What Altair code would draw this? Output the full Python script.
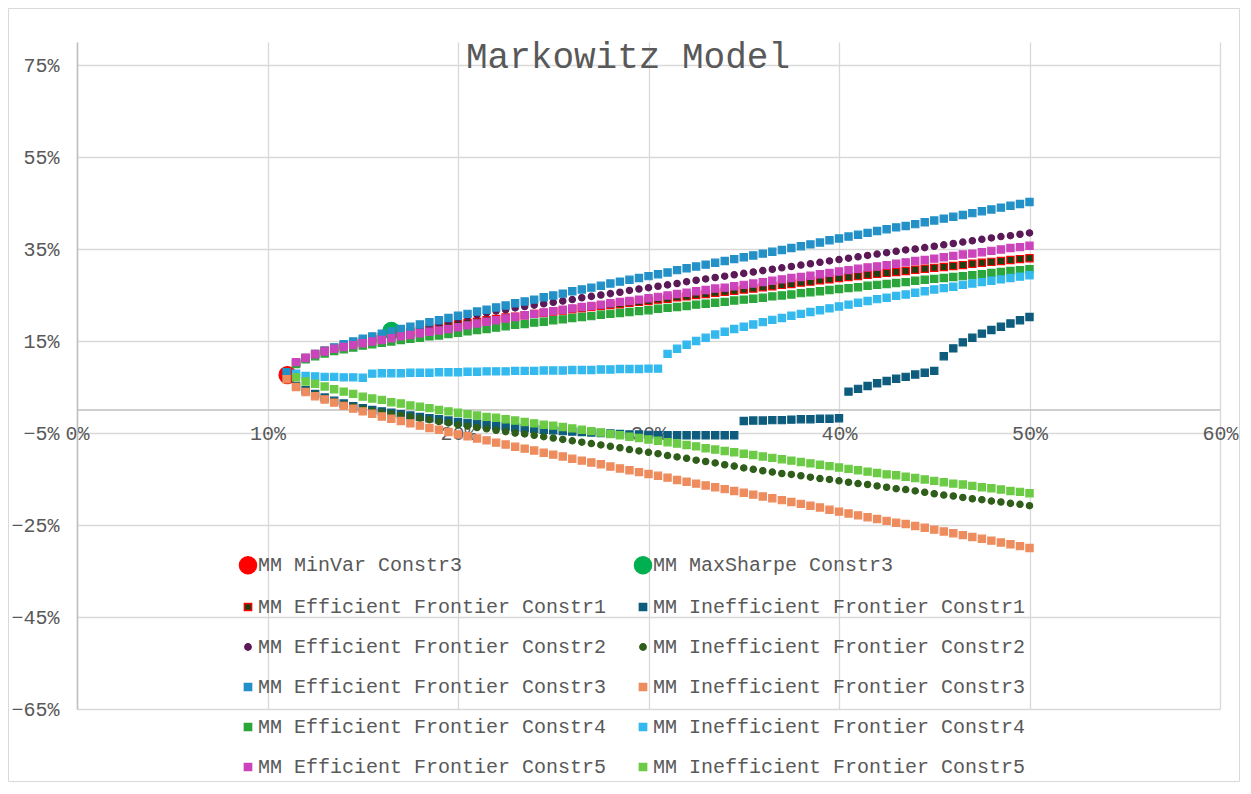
import altair as alt
import pandas as pd

TITLE = "Markowitz Model"

# Portfolio risk (standard deviation, %) grid shared by the frontier series
X = [11.0, 11.5, 12.0, 12.5, 13.0, 13.5, 14.0, 14.5, 15.0, 15.5, 16.0, 16.5, 17.0, 17.5, 18.0, 18.5, 19.0, 19.5, 20.0,
     20.5, 21.0, 21.5, 22.0, 22.5, 23.0, 23.5, 24.0, 24.5, 25.0, 25.5, 26.0, 26.5, 27.0, 27.5, 28.0, 28.5, 29.0, 29.5, 30.0,
     30.5, 31.0, 31.5, 32.0, 32.5, 33.0, 33.5, 34.0, 34.5, 35.0, 35.5, 36.0, 36.5, 37.0, 37.5, 38.0, 38.5, 39.0, 39.5, 40.0,
     40.5, 41.0, 41.5, 42.0, 42.5, 43.0, 43.5, 44.0, 44.5, 45.0, 45.5, 46.0, 46.5, 47.0, 47.5, 48.0, 48.5, 49.0, 49.5, 50.0]

# Expected returns (%) per series
EFF1 = [8.0, 10.3, 11.3, 12.2, 12.9, 13.5, 14.0, 14.5, 14.9, 15.4, 15.8, 16.2, 16.6, 16.9, 17.3, 17.6, 17.9, 18.3, 18.6,
        18.9, 19.2, 19.5, 19.8, 20.1, 20.3, 20.6, 20.9, 21.1, 21.4, 21.6, 21.9, 22.1, 22.4, 22.6, 22.8, 23.0, 23.3, 23.5, 23.7,
        24.0, 24.2, 24.5, 24.7, 25.0, 25.2, 25.5, 25.7, 25.9, 26.2, 26.4, 26.7, 26.9, 27.2, 27.4, 27.7, 27.9, 28.2, 28.4, 28.7,
        28.9, 29.1, 29.4, 29.6, 29.8, 30.0, 30.2, 30.5, 30.7, 30.9, 31.1, 31.3, 31.5, 31.8, 32.0, 32.2, 32.4, 32.6, 32.8, 33.0]
INEFF1 = [7.0, 5.2, 4.3, 3.5, 2.7, 2.0, 1.4, 0.8, 0.4, 0.0, -0.3, -0.6, -0.9, -1.2, -1.5, -1.8, -2.0, -2.3, -2.6,
          -2.8, -3.0, -3.2, -3.4, -3.6, -3.8, -4.0, -4.1, -4.3, -4.4, -4.6, -4.7, -4.8, -4.9, -5.0, -5.1, -5.2, -5.3, -5.3, -5.4,
          -5.5, -5.5, -5.5, -5.5, -5.5, -5.5, -5.5, -5.5, -5.5, -2.4, -2.3, -2.3, -2.2, -2.2, -2.1, -2.0, -2.0, -1.9, -1.9, -1.8,
          4.0, 4.6, 5.2, 5.8, 6.3, 6.8, 7.2, 7.7, 8.1, 8.5, 11.7, 13.4, 14.7, 15.7, 16.6, 17.4, 18.1, 18.8, 19.5, 20.2]
EFF2 = [8.0, 10.1, 11.2, 12.1, 12.8, 13.5, 14.1, 14.7, 15.3, 15.8, 16.3, 16.8, 17.3, 17.7, 18.2, 18.6, 19.0, 19.5, 19.9,
        20.3, 20.7, 21.1, 21.5, 21.8, 22.2, 22.5, 22.8, 23.1, 23.4, 23.7, 24.0, 24.4, 24.7, 25.0, 25.3, 25.6, 26.0, 26.3, 26.6,
        26.9, 27.2, 27.5, 27.9, 28.2, 28.5, 28.8, 29.1, 29.4, 29.7, 30.0, 30.3, 30.6, 30.9, 31.2, 31.5, 31.8, 32.1, 32.4, 32.7,
        33.0, 33.3, 33.6, 33.9, 34.2, 34.5, 34.8, 35.0, 35.3, 35.6, 35.9, 36.2, 36.5, 36.8, 37.1, 37.4, 37.7, 37.9, 38.2, 38.5]
INEFF2 = [6.8, 5.0, 4.1, 3.3, 2.5, 1.8, 1.2, 0.7, 0.2, -0.2, -0.5, -0.8, -1.1, -1.4, -1.8, -2.1, -2.5, -2.8, -3.2,
          -3.5, -3.8, -4.1, -4.4, -4.7, -5.0, -5.2, -5.5, -5.8, -6.1, -6.4, -6.7, -7.0, -7.3, -7.6, -7.9, -8.2, -8.6, -8.9, -9.2,
          -9.5, -9.9, -10.2, -10.5, -10.9, -11.2, -11.5, -11.9, -12.2, -12.6, -12.9, -13.2, -13.5, -13.8, -14.0, -14.3, -14.6, -14.9, -15.1, -15.4,
          -15.7, -16.0, -16.2, -16.5, -16.8, -17.1, -17.3, -17.6, -17.9, -18.2, -18.5, -18.7, -19.0, -19.3, -19.5, -19.8, -20.0, -20.3, -20.5, -20.8]
EFF3 = [8.2, 10.2, 11.3, 12.2, 12.9, 13.6, 14.3, 14.9, 15.5, 16.0, 16.6, 17.1, 17.6, 18.1, 18.6, 19.1, 19.5, 20.0, 20.5,
        20.9, 21.4, 21.8, 22.3, 22.7, 23.2, 23.6, 24.0, 24.5, 24.9, 25.3, 25.8, 26.2, 26.6, 27.0, 27.5, 27.9, 28.3, 28.7, 29.1,
        29.5, 29.9, 30.4, 30.8, 31.2, 31.6, 32.0, 32.4, 32.8, 33.2, 33.6, 34.0, 34.4, 34.8, 35.2, 35.6, 36.0, 36.4, 36.9, 37.3,
        37.7, 38.1, 38.5, 38.9, 39.3, 39.7, 40.0, 40.4, 40.8, 41.2, 41.6, 42.0, 42.4, 42.8, 43.2, 43.6, 44.0, 44.4, 44.8, 45.2]
INEFF3 = [6.7, 5.0, 3.9, 3.0, 2.3, 1.6, 0.9, 0.3, -0.3, -0.8, -1.4, -1.9, -2.4, -2.9, -3.4, -3.9, -4.3, -4.8, -5.3,
          -5.7, -6.2, -6.6, -7.1, -7.5, -8.0, -8.4, -8.8, -9.3, -9.7, -10.1, -10.6, -11.0, -11.4, -11.8, -12.3, -12.7, -13.1, -13.5, -13.9,
          -14.3, -14.7, -15.2, -15.6, -16.0, -16.4, -16.8, -17.2, -17.6, -18.0, -18.4, -18.8, -19.2, -19.6, -20.0, -20.4, -20.8, -21.2, -21.7, -22.1,
          -22.5, -22.9, -23.3, -23.7, -24.1, -24.5, -24.8, -25.2, -25.6, -26.0, -26.4, -26.8, -27.2, -27.6, -28.0, -28.4, -28.8, -29.2, -29.6, -30.0]
EFF4 = [None, 10.0, 11.0, 11.7, 12.3, 12.8, 13.2, 13.6, 14.0, 14.3, 14.6, 14.9, 15.2, 15.5, 15.7, 16.0, 16.2, 16.5, 16.8,
        17.1, 17.4, 17.6, 17.9, 18.2, 18.5, 18.7, 19.0, 19.2, 19.5, 19.7, 20.0, 20.2, 20.4, 20.7, 20.9, 21.1, 21.3, 21.5, 21.7,
        22.0, 22.2, 22.4, 22.6, 22.9, 23.1, 23.3, 23.5, 23.8, 24.0, 24.2, 24.4, 24.7, 24.9, 25.1, 25.4, 25.6, 25.8, 26.1, 26.3,
        26.5, 26.7, 27.0, 27.2, 27.4, 27.6, 27.8, 28.1, 28.3, 28.5, 28.7, 28.9, 29.1, 29.3, 29.5, 29.8, 30.0, 30.2, 30.4, 30.6]
INEFF4 = [None, 7.9, 7.4, 7.3, 7.2, 7.2, 7.1, 7.1, 7.0, 7.9, 8.0, 8.0, 8.0, 8.1, 8.1, 8.1, 8.2, 8.2, 8.2,
          8.3, 8.3, 8.4, 8.4, 8.4, 8.5, 8.5, 8.5, 8.6, 8.6, 8.6, 8.7, 8.7, 8.7, 8.8, 8.8, 8.9, 8.9, 8.9, 9.0,
          9.0, 12.2, 13.3, 14.2, 15.0, 15.7, 16.4, 17.0, 17.6, 18.1, 18.6, 19.1, 19.6, 20.0, 20.5, 20.9, 21.3, 21.7, 22.1, 22.5,
          22.9, 23.3, 23.7, 24.1, 24.4, 24.8, 25.1, 25.5, 25.8, 26.2, 26.5, 26.8, 27.2, 27.5, 27.8, 28.1, 28.4, 28.7, 29.0, 29.3]
EFF5 = [None, 10.4, 11.3, 12.1, 12.7, 13.3, 13.7, 14.1, 14.5, 14.9, 15.2, 15.6, 16.0, 16.3, 16.7, 17.0, 17.3, 17.6, 18.0,
        18.4, 18.8, 19.2, 19.5, 19.9, 20.2, 20.6, 20.9, 21.2, 21.5, 21.8, 22.1, 22.4, 22.6, 22.9, 23.2, 23.5, 23.7, 24.0, 24.3,
        24.6, 24.9, 25.2, 25.5, 25.8, 26.1, 26.4, 26.6, 26.9, 27.2, 27.5, 27.8, 28.1, 28.4, 28.7, 28.9, 29.2, 29.5, 29.8, 30.1,
        30.4, 30.7, 31.0, 31.2, 31.5, 31.8, 32.1, 32.4, 32.6, 32.9, 33.2, 33.5, 33.8, 34.0, 34.3, 34.6, 34.9, 35.2, 35.4, 35.7]
INEFF5 = [None, 7.1, 6.2, 5.7, 5.1, 4.5, 4.0, 3.5, 2.9, 2.5, 2.2, 1.7, 1.4, 1.0, 0.7, 0.4, 0.0, -0.3, -0.6,
          -0.9, -1.2, -1.5, -1.7, -2.0, -2.3, -2.6, -2.9, -3.2, -3.4, -3.7, -4.0, -4.3, -4.6, -4.9, -5.2, -5.5, -5.8, -6.1, -6.4,
          -6.7, -7.0, -7.3, -7.6, -7.9, -8.3, -8.6, -8.9, -9.2, -9.5, -9.8, -10.1, -10.4, -10.7, -11.0, -11.3, -11.6, -11.9, -12.2, -12.5,
          -12.8, -13.1, -13.4, -13.7, -14.0, -14.2, -14.5, -14.8, -15.1, -15.4, -15.7, -16.0, -16.2, -16.5, -16.8, -17.0, -17.3, -17.6, -17.8, -18.1]

MINVAR_X = [11.05]
MINVAR_Y = [7.6]
MAXSHARPE_X = [16.5]
MAXSHARPE_Y = [17.2]

# Series in drawing order (Excel plots them in this order)
NAMES = ["MM MinVar Constr3", "MM MaxSharpe Constr3",
         "MM Efficient Frontier Constr1", "MM Inefficient Frontier Constr1",
         "MM Efficient Frontier Constr2", "MM Inefficient Frontier Constr2",
         "MM Efficient Frontier Constr3", "MM Inefficient Frontier Constr3",
         "MM Efficient Frontier Constr4", "MM Inefficient Frontier Constr4",
         "MM Efficient Frontier Constr5", "MM Inefficient Frontier Constr5"]
FILLS = ["#FF0000", "#00B050", "#1E3F14", "#0D5C7D", "#5B1A57", "#2F5E1A",
         "#2391C8", "#EE8C5E", "#2BA63A", "#33B9EE", "#CC44BB", "#6CCB45"]
STROKES = ["#FF0000", "#00B050", "#FF0000", "#0D5C7D", "#5B1A57", "#2F5E1A",
           "#2391C8", "#EE8C5E", "#2BA63A", "#33B9EE", "#CC44BB", "#6CCB45"]
SHAPES = ["circle", "circle", "square", "square", "circle", "circle",
          "square", "square", "square", "square", "square", "square"]
SIZES = [290, 290, 52, 52, 40, 40, 52, 52, 52, 52, 52, 52]

X_TICKS = [0, 10, 20, 30, 40, 50, 60]
Y_TICKS = [-65, -45, -25, -5, 15, 35, 55, 75]

rows = []
for xv, yv in zip(MINVAR_X, MINVAR_Y):
    rows.append({"series": NAMES[0], "risk": xv, "ret": yv, "o": 0})
for xv, yv in zip(MAXSHARPE_X, MAXSHARPE_Y):
    rows.append({"series": NAMES[1], "risk": xv, "ret": yv, "o": 1})
frontiers = [EFF1, INEFF1, EFF2, INEFF2, EFF3, INEFF3, EFF4, INEFF4, EFF5, INEFF5]
for k, ys in enumerate(frontiers):
    for xv, yv in zip(X, ys):
        if yv is not None:
            rows.append({"series": NAMES[k + 2], "risk": xv, "ret": yv, "o": k + 2})
df = pd.DataFrame(rows)

# The legend fills its two columns top-down, so list left column first, then right column
LEG_ORDER = NAMES[0::2] + NAMES[1::2]
idx = [NAMES.index(n) for n in LEG_ORDER]
L_FILLS = [FILLS[i] for i in idx]
L_STROKES = [STROKES[i] for i in idx]
L_SHAPES = [SHAPES[i] for i in idx]
L_SIZES = [SIZES[i] for i in idx]

FONT = "Liberation Mono"
GRAY = "#595959"
LABEL_EXPR = "format(datum.value, 'd') + '%'"

x_enc = alt.X("risk:Q", title=None,
              scale=alt.Scale(domain=[0, 60], nice=False, zero=False),
              axis=alt.Axis(values=X_TICKS, labelExpr=LABEL_EXPR, grid=True, domain=False,
                            ticks=False, offset=-299, labelPadding=13, labelFlush=False))
y_enc = alt.Y("ret:Q", title=None,
              scale=alt.Scale(domain=[-65, 80], nice=False, zero=False),
              axis=alt.Axis(values=Y_TICKS, labelExpr=LABEL_EXPR, grid=True, domain=True,
                            domainColor="#bfbfbf", domainWidth=1.5, ticks=False, labelPadding=18,
                            labelFlush=False))

legend = alt.Legend(title=None, orient="none", legendX=161, legendY=513, columns=2,
                    columnPadding=24, rowPadding=20, labelFont=FONT, labelFontSize=20,
                    labelColor=GRAY, labelLimit=600, labelOffset=0, symbolStrokeWidth=1.5,
                    padding=0)

points = alt.Chart(df).mark_point(filled=True, opacity=1, strokeWidth=1.2).encode(
    x=x_enc,
    y=y_enc,
    fill=alt.Fill("series:N", scale=alt.Scale(domain=LEG_ORDER, range=L_FILLS), legend=legend),
    stroke=alt.Stroke("series:N", scale=alt.Scale(domain=LEG_ORDER, range=L_STROKES), legend=legend),
    shape=alt.Shape("series:N", scale=alt.Scale(domain=LEG_ORDER, range=L_SHAPES), legend=legend),
    size=alt.Size("series:N", scale=alt.Scale(type="ordinal", domain=LEG_ORDER, range=L_SIZES), legend=legend),
    order=alt.Order("o:Q"),
)

zero_line = alt.Chart(pd.DataFrame({"z": [0]})).mark_rule(color="#bfbfbf", strokeWidth=1.5).encode(
    y=alt.datum(0)
)

frame = alt.Chart(pd.DataFrame({"f": [0]})).mark_rect(
    fillOpacity=0, stroke="#d9d9d9", strokeWidth=1
).encode(
    x=alt.value(-68.5), x2=alt.value(1162.5), y=alt.value(-33.5), y2=alt.value(739.5)
)

title = alt.Chart(pd.DataFrame({"t": [TITLE]})).mark_text(
    font=FONT, fontSize=36, color=GRAY, align="center", baseline="alphabetic"
).encode(text="t:N", x=alt.value(551), y=alt.value(26))

chart = alt.layer(frame, zero_line, points, title).properties(
    width=1143, height=667,
    padding={"left": 69, "top": 34, "right": 20, "bottom": 73},
    autosize=alt.AutoSizeParams(type="none"),
    background="white",
).configure_view(stroke=None).configure_axis(
    labelFont=FONT, labelFontSize=20, labelColor=GRAY,
    gridColor="#d9d9d9", gridWidth=1.3,
)

chart.save("out.html", embed_options={"renderer": "svg", "actions": False})
